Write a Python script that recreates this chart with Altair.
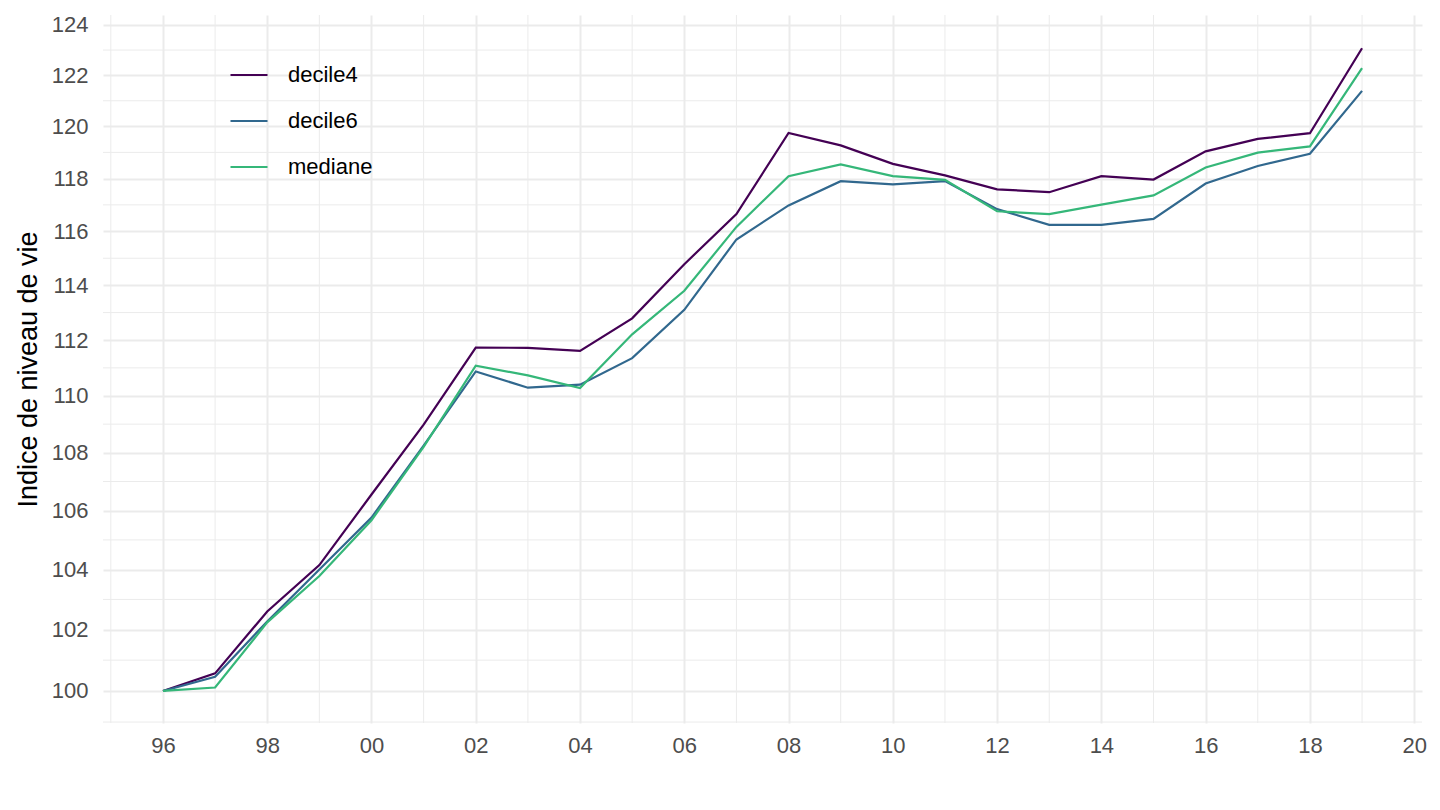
import altair as alt
import pandas as pd

years = list(range(1996, 2020))
decile4 = [100.0, 100.57, 102.6, 104.15, 106.55, 108.98, 111.73, 111.72, 111.61, 112.79,
           114.78, 116.65, 119.75, 119.27, 118.56, 118.12, 117.59, 117.48, 118.09, 117.96,
           119.04, 119.52, 119.74, 123.07]
decile6 = [100.0, 100.46, 102.27, 104.0, 105.76, 108.25, 110.87, 110.29, 110.40, 111.35,
           113.1, 115.7, 116.98, 117.9, 117.78, 117.9, 116.84, 116.25, 116.25, 116.47,
           117.81, 118.48, 118.95, 121.39]
mediane = [100.0, 100.11, 102.24, 103.78, 105.67, 108.2, 111.08, 110.73, 110.28, 112.21,
           113.8, 116.17, 118.09, 118.54, 118.09, 117.95, 116.76, 116.65, 117.01, 117.36,
           118.42, 118.99, 119.23, 122.28]

series_names = ["decile4", "decile6", "mediane"]
series_colors = ["#440154", "#31688E", "#35B779"]

x_major = list(range(1996, 2021, 2))
x_minor = list(range(1995, 2021, 2))
y_major = list(range(100, 125, 2))
y_minor = list(range(99, 125, 2))

rows = []
for name, vals in zip(series_names, [decile4, decile6, mediane]):
    for yr, v in zip(years, vals):
        rows.append({"annee": yr, "indice": v, "serie": name})
df = pd.DataFrame(rows)

FONT = "Liberation Sans"
xscale = alt.Scale(domain=[1994.85, 2020.15], nice=False, zero=False)
yscale = alt.Scale(type="log", domain=[98.97, 124.4], nice=False, zero=False)

minor_x_layer = alt.Chart(pd.DataFrame({"v": x_minor})).mark_rule(
    color="#EBEBEB", strokeWidth=1
).encode(x=alt.X("v:Q", scale=xscale))

minor_y_layer = alt.Chart(pd.DataFrame({"v": y_minor})).mark_rule(
    color="#EBEBEB", strokeWidth=1
).encode(y=alt.Y("v:Q", scale=yscale))

lines = alt.Chart(df).mark_line(strokeWidth=2.2).encode(
    x=alt.X("annee:Q", scale=xscale,
            axis=alt.Axis(values=x_major, title=None,
                          labelExpr="slice(toString(datum.value), 2)",
                          labelPadding=12, grid=True)),
    y=alt.Y("indice:Q", scale=yscale,
            axis=alt.Axis(values=y_major, title="Indice de niveau de vie",
                          labelPadding=15, grid=True, format="d",
                          titlePadding=9)),
    color=alt.Color("serie:N",
                    scale=alt.Scale(domain=series_names, range=series_colors),
                    legend=alt.Legend(title=None, orient="none", legendX=126, legendY=40,
                                      symbolType="stroke", symbolSize=1369,
                                      symbolStrokeWidth=2.2, labelFontSize=22,
                                      labelFont=FONT, labelColor="#000000",
                                      labelOffset=19, rowPadding=15)),
)

chart = alt.layer(minor_x_layer, minor_y_layer, lines).properties(
    width=1319, height=708,
    autosize=alt.AutoSizeParams(type="none"),
    padding={"left": 95, "top": 7, "right": 10, "bottom": 70},
).configure_view(stroke=None).configure_axis(
    domain=False, ticks=False, gridColor="#EBEBEB", gridWidth=2,
    labelFont=FONT, labelFontSize=22, labelColor="#4D4D4D",
    titleFont=FONT, titleFontSize=27, titleColor="#000000", titleFontWeight="normal",
)

chart.save("out.html", embed_options={"renderer": "svg", "actions": False})
